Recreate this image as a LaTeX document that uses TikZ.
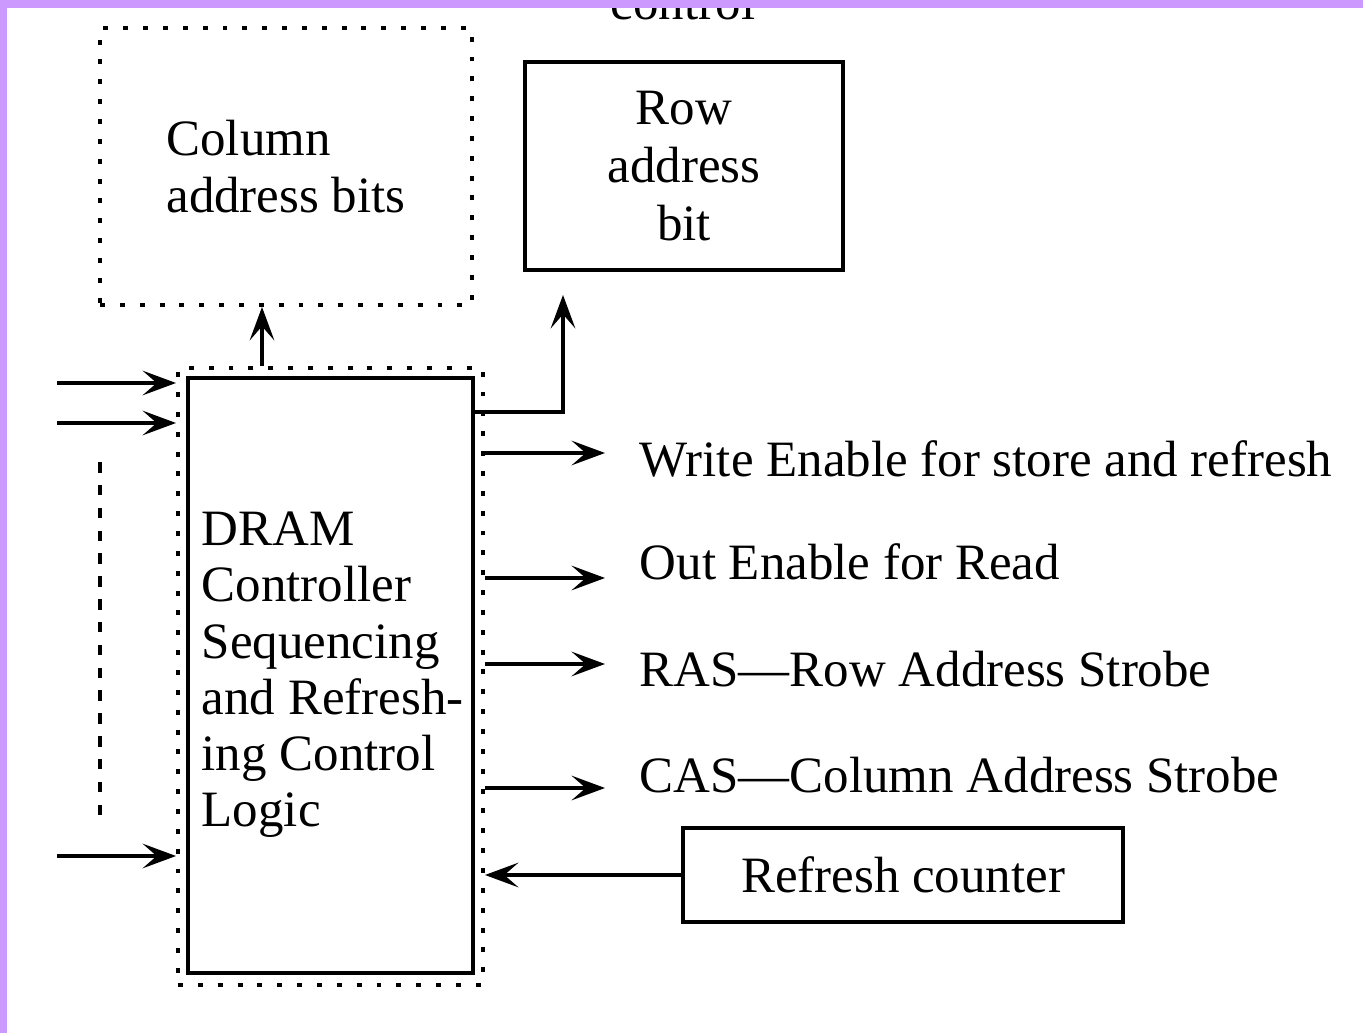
\documentclass[tikz,border=0pt]{standalone}
\usepackage{fontspec}
\setmainfont{Liberation Serif}
\usetikzlibrary{arrows.meta}
\definecolor{frame}{RGB}{204,153,255}

\begin{document}
\begin{tikzpicture}[x = 0.02cm, y = -0.02cm, line width = 2pt,
  font = \fontsize{29}{32}\selectfont,
  dotbox/.style = {draw = black, line width = 2.3pt, dash pattern = on 2.8pt off 8.5pt},
  solidbox/.style = {draw = black},
  sigtext/.style = {anchor = base west, inner sep = 0pt},
  tip/.style = {-{Stealth[length = 19pt, width = 14pt, inset = 8pt]}}]

\useasboundingbox (0, 0) rectangle (1363, 1033);
\fill [white] (0, 0) rectangle (1363, 1033);

\node [anchor = base] (ctl) at (683, 20) {control};

% address boxes on top
\node [dotbox, minimum width = 7.44cm, minimum height = 5.54cm, align = left] (col) at (286, 166.5) {Column\\address bits};
\node [solidbox, minimum width = 6.36cm, minimum height = 4.16cm, align = center, font = \fontsize{29}{33}\selectfont] (row) at (684, 166) {Row\\address\\bit};

% controller
\node [dotbox, minimum width = 6.1cm, minimum height = 12.34cm] (ctrlout) at (330.5, 676.5) {};
\node [solidbox, minimum width = 5.7cm, minimum height = 11.9cm] (ctrl) at (330.5, 675.5) {};
\node [anchor = west, inner sep = 0pt, align = left] (ctrltxt) at (200, 675) {DRAM\\Controller\\Sequencing\\and Refresh-\\ing Control\\Logic};

\coordinate (colup) at (262, 308);
\path [draw, tip] (ctrlout.north -| colup) -- (col.south -| colup);

\coordinate (rowbend) at (563, 412);
\coordinate (rowup) at (563, 295);
\path [draw, tip] (ctrl.east |- rowbend) -- (rowbend) -- (rowup);

% inputs
\coordinate (in0) at (57, 383);
\coordinate (in1) at (57, 423);
\coordinate (in2) at (57, 856);
\path [draw, tip] (in0) -- (ctrlout.west |- in0);
\path [draw, tip] (in1) -- (ctrlout.west |- in1);
\path [draw, tip] (in2) -- (ctrlout.west |- in2);
\draw [line width = 2.3pt, dash pattern = on 6pt off 7pt] (100, 462) -- (100, 820);

% outputs
\node [sigtext] (wr) at (638, 477) {Write Enable for store and refresh};
\node [sigtext] (oe) at (638, 580) {Out Enable for Read};
\node [sigtext] (ras) at (638, 686) {RAS---Row Address Strobe};
\node [sigtext] (cas) at (638, 792) {CAS---Column Address Strobe};

\coordinate (wrend) at (605, 453);
\coordinate (oeend) at (605, 578);
\coordinate (rasend) at (605, 664);
\coordinate (casend) at (605, 788);
\path [draw, tip] (ctrlout.east |- wrend) -- (wrend);
\path [draw, tip] (ctrlout.east |- oeend) -- (oeend);
\path [draw, tip] (ctrlout.east |- rasend) -- (rasend);
\path [draw, tip] (ctrlout.east |- casend) -- (casend);

\node [solidbox, minimum width = 8.8cm, minimum height = 1.88cm] (cnt) at (903, 875) {Refresh counter};
\path [draw, tip] (cnt.west) -- (ctrlout.east |- cnt.west);

\fill [frame] (0, 0) rectangle (1363, 8);
\fill [frame] (0, 0) rectangle (7, 1033);

\end{tikzpicture}
\end{document}
